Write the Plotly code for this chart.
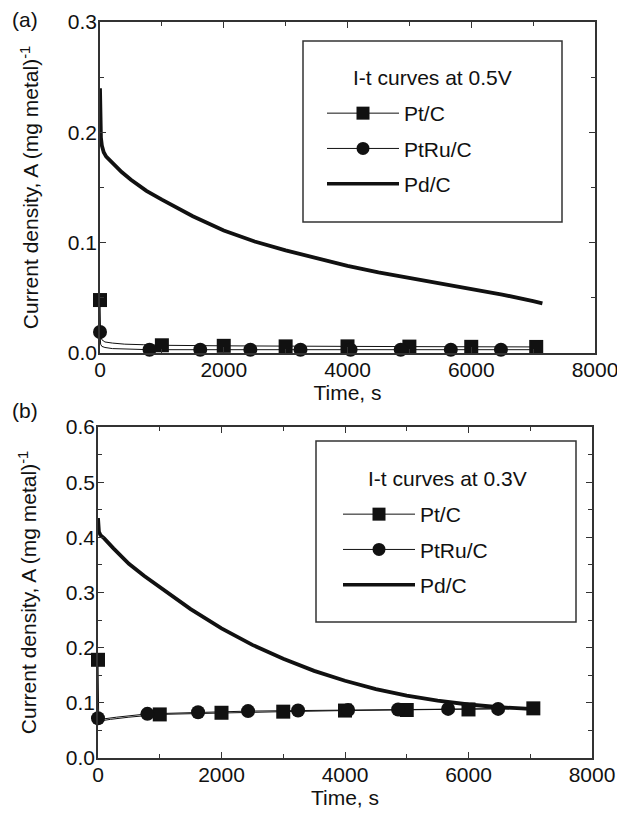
import plotly.graph_objects as go

# ---- (a) I-t curves at 0.5 V ----
t_pd_a = [0, 5, 15, 30, 60, 100, 200, 350, 500, 750, 1000, 1500, 2000, 2500,
          3000, 3500, 4000, 4500, 5000, 5500, 6000, 6500, 7000, 7150]
j_pd_a = [0.240, 0.210, 0.195, 0.188, 0.182, 0.178, 0.172, 0.164, 0.157, 0.147,
          0.139, 0.124, 0.111, 0.101, 0.093, 0.086, 0.079, 0.073, 0.068, 0.063,
          0.058, 0.053, 0.047, 0.045]

t_pt_a = [0, 10, 30, 80, 200, 400, 700, 1000, 2000, 3000, 4000, 5000, 6000, 7050]
j_pt_a = [0.048, 0.016, 0.012, 0.010, 0.009, 0.008, 0.0075, 0.007, 0.0065,
          0.006, 0.006, 0.0058, 0.0056, 0.0055]
t_pt_a_mk = [0, 1000, 2000, 3000, 4000, 5000, 6000, 7050]
j_pt_a_mk = [0.048, 0.007, 0.0065, 0.006, 0.006, 0.0058, 0.0056, 0.0055]

t_ru_a = [0, 10, 30, 80, 200, 400, 800, 1620, 2430, 3240, 4050, 4860, 5670, 6480, 7100]
j_ru_a = [0.019, 0.008, 0.006, 0.005, 0.004, 0.0035, 0.003, 0.003, 0.003,
          0.003, 0.003, 0.003, 0.003, 0.003, 0.003]
t_ru_a_mk = [0, 800, 1620, 2430, 3240, 4050, 4860, 5670, 6480]
j_ru_a_mk = [0.019, 0.003, 0.003, 0.003, 0.003, 0.003, 0.003, 0.003, 0.003]

# ---- (b) I-t curves at 0.3 V ----
t_pd_b = [0, 5, 15, 40, 100, 250, 500, 750, 1000, 1250, 1500, 2000, 2500, 3000,
          3500, 4000, 4500, 5000, 5500, 6000, 6500, 7000, 7150]
j_pd_b = [0.435, 0.420, 0.410, 0.404, 0.398, 0.380, 0.352, 0.330, 0.310, 0.292,
          0.270, 0.235, 0.205, 0.180, 0.158, 0.140, 0.125, 0.113, 0.104, 0.097,
          0.092, 0.089, 0.088]

t_pt_b = [0, 10, 30, 80, 200, 500, 1000, 2000, 3000, 4000, 5000, 6000, 7050]
j_pt_b = [0.178, 0.085, 0.070, 0.068, 0.070, 0.074, 0.079, 0.082, 0.084, 0.086,
          0.087, 0.088, 0.090]
t_pt_b_mk = [0, 1000, 2000, 3000, 4000, 5000, 6000, 7050]
j_pt_b_mk = [0.178, 0.079, 0.082, 0.084, 0.086, 0.087, 0.088, 0.090]

t_ru_b = [0, 30, 100, 300, 800, 1620, 2430, 3240, 4050, 4860, 5670, 6480, 7100]
j_ru_b = [0.072, 0.062, 0.071, 0.074, 0.080, 0.083, 0.085, 0.086, 0.087, 0.088,
          0.089, 0.089, 0.090]
t_ru_b_mk = [0, 800, 1620, 2430, 3240, 4050, 4860, 5670, 6480]
j_ru_b_mk = [0.072, 0.080, 0.083, 0.085, 0.086, 0.087, 0.088, 0.089, 0.089]

FONT = "Liberation Sans, Arial, sans-serif"
INK = "#111"
FS = 21
W, H = 617, 814

fig = go.Figure()


def add_panel(xa, ya, leg, pd_xy, pt_xy, pt_mk, ru_xy, ru_mk):
    # thin lines under the markers
    fig.add_trace(go.Scatter(x=pt_xy[0], y=pt_xy[1], mode="lines",
                             line=dict(color=INK, width=1), showlegend=False,
                             xaxis=xa, yaxis=ya))
    fig.add_trace(go.Scatter(x=ru_xy[0], y=ru_xy[1], mode="lines",
                             line=dict(color=INK, width=1), showlegend=False,
                             xaxis=xa, yaxis=ya))
    fig.add_trace(go.Scatter(x=pd_xy[0], y=pd_xy[1], mode="lines",
                             line=dict(color=INK, width=3.8), showlegend=False,
                             xaxis=xa, yaxis=ya))
    # markers at t=0 sit on the axis, so don't clip them
    fig.add_trace(go.Scatter(x=pt_mk[0], y=pt_mk[1], mode="markers",
                             marker=dict(symbol="square", size=14, color=INK),
                             cliponaxis=False, showlegend=False,
                             xaxis=xa, yaxis=ya))
    fig.add_trace(go.Scatter(x=ru_mk[0], y=ru_mk[1], mode="markers",
                             marker=dict(symbol="circle", size=14, color=INK),
                             cliponaxis=False, showlegend=False,
                             xaxis=xa, yaxis=ya))
    # legend entries
    for name, sym, width, g in [("Pt/C", "square", 1, "g1"),
                                ("PtRu/C", "circle", 1, "g2"),
                                ("Pd/C", None, 3.5, "g3")]:
        fig.add_trace(go.Scatter(
            x=[None], y=[None], name=name, legend=leg, legendgroup=leg + g,
            mode="lines+markers" if sym else "lines",
            line=dict(color=INK, width=width),
            marker=dict(symbol=sym or "circle", size=13, color=INK),
            xaxis=xa, yaxis=ya))


add_panel("x", "y", "legend", (t_pd_a, j_pd_a), (t_pt_a, j_pt_a),
          (t_pt_a_mk, j_pt_a_mk), (t_ru_a, j_ru_a), (t_ru_a_mk, j_ru_a_mk))
add_panel("x2", "y2", "legend2", (t_pd_b, j_pd_b), (t_pt_b, j_pt_b),
          (t_pt_b_mk, j_pt_b_mk), (t_ru_b, j_ru_b), (t_ru_b_mk, j_ru_b_mk))

axis_common = dict(
    showline=True, linecolor="#333", linewidth=1.5, mirror="ticks",
    ticks="inside", ticklen=6, tickwidth=1.2, tickcolor="#333",
    showgrid=False, zeroline=False, automargin=False,
    ticklabeloverflow="allow",
    tickfont=dict(family=FONT, size=FS, color=INK),
    title_font=dict(family=FONT, size=FS, color=INK),
)

xa_common = dict(axis_common, range=[0, 8000], tickmode="linear", tick0=0,
                 dtick=2000, minor=dict(dtick=1000, ticks="inside", ticklen=4,
                                        tickcolor="#333"),
                 ticklabelstandoff=-3,
                 title_text="Time, s", title_standoff=0)

ya_common = dict(axis_common, tickmode="linear", tick0=0, dtick=0.1,
                 tickformat=".1f", ticklabelstandoff=-3,
                 minor=dict(dtick=0.05, ticks="inside", ticklen=4, tickcolor="#333"),
                 title_text="Current density, A (mg metal)<sup>-1</sup>",
                 title_standoff=23)

legend_common = dict(xanchor="left", yanchor="top", bgcolor="rgba(0,0,0,0)",
                     borderwidth=0, itemwidth=72, tracegroupgap=5,
                     font=dict(family=FONT, size=FS, color=INK))

fig.update_layout(
    width=W, height=H,
    margin=dict(l=0, r=0, t=0, b=0, autoexpand=False),
    paper_bgcolor="white", plot_bgcolor="white",
    font=dict(family=FONT, size=FS, color=INK),
    xaxis=dict(xa_common, domain=[100 / W, 595 / W], anchor="y"),
    yaxis=dict(ya_common, domain=[1 - 353 / H, 1 - 22 / H], anchor="x",
               range=[0, 0.3]),
    xaxis2=dict(xa_common, domain=[98 / W, 592 / W], anchor="y2"),
    yaxis2=dict(ya_common, domain=[1 - 758 / H, 1 - 427 / H], anchor="x2",
                range=[0, 0.6]),
    legend=dict(legend_common, x=322 / W, y=1 - 93 / H),
    legend2=dict(legend_common, x=338 / W, y=1 - 494 / H),
    shapes=[
        dict(type="rect", xref="paper", yref="paper",
             x0=303 / W, x1=562 / W, y0=1 - 222 / H, y1=1 - 41 / H,
             line=dict(color="#333", width=1.5)),
        dict(type="rect", xref="paper", yref="paper",
             x0=316 / W, x1=576 / W, y0=1 - 622 / H, y1=1 - 441 / H,
             line=dict(color="#333", width=1.5)),
    ],
    annotations=[
        dict(text="(a)", x=25 / W, y=1 - 20 / H),
        dict(text="(b)", x=25 / W, y=1 - 410 / H),
        dict(text="I-t curves at 0.5V", x=432 / W, y=1 - 78 / H),
        dict(text="I-t curves at 0.3V", x=447 / W, y=1 - 478 / H),
    ],
)
fig.update_annotations(xref="paper", yref="paper", showarrow=False,
                       xanchor="center", yanchor="middle",
                       font=dict(family=FONT, size=FS, color=INK))

# page body has a default 8px margin; drop it so the figure sits at 0,0
fig.write_html("out.html", config={"displayModeBar": False},
               post_script="document.body.style.margin='0';")
